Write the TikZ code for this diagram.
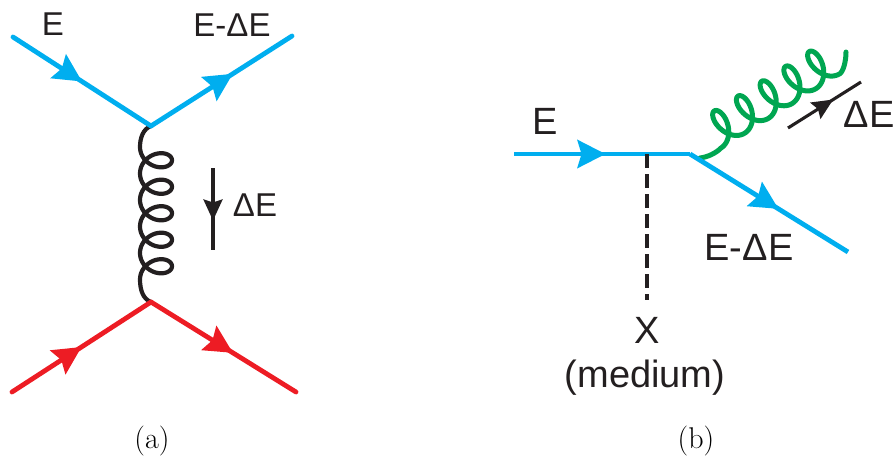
\documentclass[tikz,border=0pt]{standalone}
\usepackage{fontspec}
\setsansfont{Liberation Sans}
\usetikzlibrary{arrows.meta,decorations.markings}
\definecolor{ink}{HTML}{231F20}
\definecolor{cyanl}{HTML}{00AEEF}
\definecolor{redl}{HTML}{ED1C24}
\definecolor{greenl}{HTML}{00A651}
\tikzset{
  x=1pt,y=-1pt,
  fermion/.style={line width=4.8pt,line cap=round},
  bigtip/.style={postaction={decorate},decoration={markings,mark=at position #1 with {\arrow{Stealth[length=28pt,width=28pt,inset=4pt]}}}},
  smalltip/.style={postaction={decorate},decoration={markings,mark=at position #1 with {\arrow{Stealth[length=21pt,width=19pt,inset=3pt]}}}},
  mom/.style={line width=3.1pt,color=ink},
  gluon/.style={line width=4.2pt,line join=round,line cap=round},
  lab/.style={inner sep=0pt,text=ink,font=\sffamily\fontsize{33}{36}\selectfont},
  labb/.style={inner sep=0pt,text=ink,font=\sffamily\fontsize{38}{42}\selectfont},
  captext/.style={inner sep=0pt,text=black,font=\rmfamily\fontsize{30}{34}\selectfont}
}
\begin{document}
\begin{tikzpicture}
\useasboundingbox (0,0) rectangle (895,458);
% panel (a)
\coordinate (aTL) at (13,37);
\coordinate (aTR) at (292,36);
\coordinate (aBL) at (12,392);
\coordinate (aBR) at (296,392);
\coordinate (aT) at (151,126);
\coordinate (aB) at (151,302);
\coordinate (aMs) at (213,168);
\coordinate (aMe) at (213,250);
\draw[gluon,color=ink] (aT) .. controls (143,129) and (140,138) .. (140,147)
  -- plot[domain=0:5,samples=241,variable=\t] ({156-16*cos(360*\t)},{147+26.5*\t+13*sin(360*\t)})
  .. controls (140,290) and (143,299) .. (aB);
\draw[fermion,cyanl,bigtip=0.5] (aTL) -- (aT);
\draw[fermion,cyanl,bigtip=0.58] (aT) -- (aTR);
\draw[fermion,redl,bigtip=0.5] (aBL) -- (aB);
\draw[fermion,redl,bigtip=0.565] (aB) -- (aBR);
\draw[mom,smalltip=0.64] (aMs) -- (aMe);
\node[lab] (aE) at (53,24) {E};
\node[lab] (aEd) at (232,25) {E-ΔE};
\node[lab] (aD) at (255,205) {ΔE};
\node[captext] (capa) at (152,441) {(a)};
% panel (b)
\coordinate (bL) at (514,154);
\coordinate (bV) at (690,154);
\coordinate (bR) at (848,252);
\coordinate (bX) at (647,154);
\coordinate (bXe) at (647,300);
\coordinate (bGs) at (700,158);
\coordinate (bGe) at (846,52);
\coordinate (bMs) at (788,128);
\coordinate (bMe) at (861,82);
\draw[gluon,line width=5pt,color=greenl] (bGs) .. controls (708,157) and (716,153) .. (721,148)
  -- plot[domain=0:5,samples=241,variable=\t] ({721+0.848*(28*\t+11.5*sin(360*\t))-0.53*17.5*(1-cos(360*\t))},{148-0.53*(28*\t+11.5*sin(360*\t))-0.848*17.5*(1-cos(360*\t))})
  .. controls (843,72) and (846,62) .. (bGe);
\draw[fermion,cyanl,line cap=butt,bigtip=0.52] (bL) -- (bV);
\draw[fermion,cyanl,line cap=butt,bigtip=0.56] (bV) -- (bR);
\draw[mom,dash pattern=on 14pt off 6pt] (bX) -- (bXe);
\draw[mom,smalltip=0.62] (bMs) -- (bMe);
\node[labb] (bE) at (545,121) {E};
\node[labb] (bEd) at (749,247) {E-ΔE};
\node[labb] (bD) at (869,114) {ΔE};
\node[labb] (bXl) at (647,330) {X};
\node[labb] (bMed) at (645,378) {(medium)};
\node[captext] (capb) at (696,441) {(b)};
\end{tikzpicture}
\end{document}
